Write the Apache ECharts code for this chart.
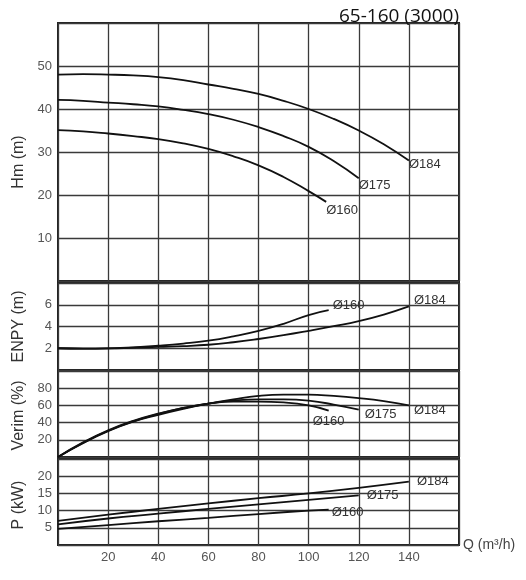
<!DOCTYPE html>
<html>
<head>
<meta charset="utf-8">
<script src="https://cdn.jsdelivr.net/npm/echarts@6/dist/echarts.min.js"></script>
<style>html,body{margin:0;padding:0;background:#fff;}#c{width:526px;height:580px;}</style>
</head>
<body>
<div id="c"></div>
<script>
// ---- data ----
const titleText = '65-160 (3000)';
const xTicks = [0, 20, 40, 60, 80, 100, 120, 140, 160];

// Head Hm (m)
const qH184 = [0,10,20,30,40,50,60,70,80,90,100,110,120,130,140];
const h184  = [48.0,48.1,48.0,47.8,47.4,46.7,45.7,44.7,43.5,41.9,40.0,37.7,35.0,31.8,28.0];
const qH175 = [0,10,20,30,40,50,60,70,80,90,100,110,120];
const h175  = [42.1,41.9,41.5,41.1,40.6,39.8,38.8,37.5,35.8,33.7,31.2,27.9,23.9];
const qH160 = [0,10,20,30,40,50,60,70,80,90,100,107];
const h160  = [35.1,34.8,34.3,33.7,33.0,32.0,30.7,29.0,26.9,24.2,20.9,18.4];

// NPSH ENPY (m)
const qN184 = [0,10,20,30,40,50,60,70,80,90,100,110,120,130,140];
const n184  = [2.0,1.96,1.98,2.05,2.13,2.2,2.32,2.55,2.85,3.2,3.6,4.03,4.5,5.1,5.85];
const qN160 = [0,10,20,30,40,50,60,70,80,90,100,108];
const n160  = [2.0,1.96,1.99,2.08,2.23,2.43,2.7,3.1,3.6,4.25,5.05,5.5];

// Efficiency Verim (%)
const qE184 = [0,10,20,30,40,50,60,70,80,90,100,110,120,130,140];
const e184  = [0,16,30,41,49,56,62,67,71,72.5,72.5,71,68.5,65,60];
const qE175 = [0,10,20,30,40,50,60,70,80,90,100,110,120];
const e175  = [0,16.5,30.5,41.5,50,57,62,65.5,67,67,65.5,61,55];
const qE160 = [0,10,20,30,40,50,60,70,80,90,100,108];
const e160  = [0,17,31,42,50.5,57,62,64.5,64.5,63.5,60,54];

// Power P (kW)
const qP184 = [0,20,40,60,80,100,120,140];
const p184  = [7.0,8.8,10.5,12.1,13.6,15.0,16.6,18.4];
const qP175 = [0,20,40,60,80,100,120];
const p175  = [6.0,7.7,9.1,10.5,11.8,13.1,14.4];
const qP160 = [0,20,40,60,80,100,108];
const p160  = [4.7,5.8,6.9,7.9,9.0,10.0,10.3];

const labels = ['Ø184', 'Ø175', 'Ø160'];
// ---- end data ----

const pairs = (xs, ys) => xs.map((x, i) => [x, ys[i]]);
const FONT = 'Liberation Sans';
const GRID_C = '#3a3a3a';

const grids = [
  {left: 58, top: 23, width: 401, height: 258},
  {left: 58, top: 283, width: 401, height: 87},
  {left: 58, top: 371, width: 401, height: 86},
  {left: 58, top: 459, width: 401, height: 86}
].map(g => Object.assign(g, {show: true, borderColor: '#222', borderWidth: 2, containLabel: false}));

function xAxis(i, last) {
  return {
    type: 'value', gridIndex: i, min: xTicks[0], max: xTicks[xTicks.length-1], interval: 20,
    axisLine: {show: false}, axisTick: {show: false},
    splitLine: {show: true, lineStyle: {color: GRID_C, width: 1.3}},
    axisLabel: {show: last, showMinLabel: false, showMaxLabel: false, color: '#555', fontFamily: FONT, fontSize: 13, margin: 6},
    name: last ? 'Q (m³/h)' : '', nameLocation: 'end', nameGap: 4,
    nameTextStyle: {color: '#444', fontFamily: FONT, fontSize: 14}
  };
}
function yAxis(i, name, max, interval, pad) {
  return {
    type: 'value', gridIndex: i, min: 0, max: max, interval: interval,
    axisLine: {show: false}, axisTick: {show: false},
    splitLine: {show: true, lineStyle: {color: GRID_C, width: 1.3}},
    axisLabel: {showMinLabel: false, showMaxLabel: false, color: '#555', fontFamily: FONT, fontSize: 13, margin: 6},
    name: name, nameLocation: 'middle', nameGap: 31, nameRotate: 90,
    nameTextStyle: {color: '#333', fontFamily: FONT, fontSize: 16, padding: pad}
  };
}
function line(i, xs, ys, lab, off) {
  return {
    type: 'line', xAxisIndex: i, yAxisIndex: i, data: pairs(xs, ys),
    smooth: 0.5, showSymbol: false, silent: true,
    lineStyle: {color: '#111', width: 1.8},
    endLabel: {show: true, formatter: lab, distance: 0, offset: off,
      color: '#333', fontFamily: FONT, fontSize: 13}
  };
}

const chart = echarts.init(document.getElementById('c'), null, {renderer: 'canvas'});
chart.setOption({
  animation: false,
  backgroundColor: '#fff',
  title: {text: titleText, right: 62, top: 2,
    textStyle: {fontFamily: 'Open Sans', fontWeight: 'normal', fontSize: 19, color: '#111'}},
  grid: grids,
  xAxis: [xAxis(0,false), xAxis(1,false), xAxis(2,false), xAxis(3,true)],
  yAxis: [
    yAxis(0, 'Hm (m)', 60, 10, [0, 20, 0, 0]),
    yAxis(1, 'ENPY (m)', 8, 2, [0, 0, 0, 0]),
    yAxis(2, 'Verim (%)', 100, 20, [0, 3, 0, 0]),
    yAxis(3, 'P (kW)', 25, 5, [0, 6, 0, 0])
  ],
  series: [
    line(0, qH184, h184, labels[0], [0, 4]),
    line(0, qH175, h175, labels[1], [0, 7]),
    line(0, qH160, h160, labels[2], [0, 9]),
    line(1, qN184, n184, labels[0], [5, -6]),
    line(1, qN160, n160, labels[2], [4, -5]),
    line(2, qE184, e184, labels[0], [5, 5]),
    line(2, qE175, e175, labels[1], [6, 5]),
    line(2, qE160, e160, labels[2], [-16, 11]),
    line(3, qP184, p184, labels[0], [8, 0]),
    line(3, qP175, p175, labels[1], [8, 0]),
    line(3, qP160, p160, labels[2], [3, 3])
  ]
});
</script>
</body>
</html>
